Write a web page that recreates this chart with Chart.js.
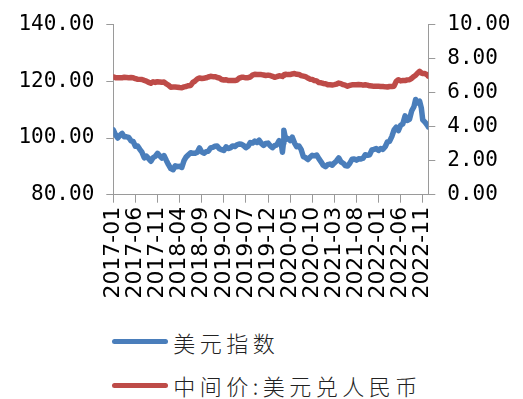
<!DOCTYPE html>
<html>
<head>
<meta charset="utf-8">
<script src="https://cdn.jsdelivr.net/npm/chart.js"></script>
<style>
  html, body { margin: 0; padding: 0; background: #fff; }
  #wrap { position: relative; width: 523px; height: 399px; overflow: hidden; }
  #chart { position: absolute; left: 0; top: 0; }
  .lg-line { position: absolute; height: 5px; border-radius: 3px; }
  .lg-text { position: absolute; font-family: "Noto Sans CJK SC", sans-serif; font-size: 22px; font-weight: 300;
             line-height: 22px; letter-spacing: 4.5px; color: #222; white-space: nowrap; }
</style>
</head>
<body>
<div id="wrap">
  <canvas id="chart" width="523" height="320"></canvas>
  <div id="legend"></div>
</div>
<script>
// Observation dates (semi-monthly, with a few extra days around turning points)
const dates = [
  '2017-01-01','2017-01-16','2017-02-01','2017-02-16','2017-03-01','2017-03-16','2017-04-01','2017-04-16',
  '2017-05-01','2017-05-16','2017-06-01','2017-06-16','2017-07-01','2017-07-16','2017-08-01','2017-08-16',
  '2017-09-01','2017-09-16','2017-10-01','2017-10-16','2017-11-01','2017-11-16','2017-12-01','2017-12-16',
  '2018-01-01','2018-01-16','2018-02-01','2018-02-16','2018-03-01','2018-03-16','2018-04-01','2018-04-16',
  '2018-05-01','2018-05-16','2018-06-01','2018-06-16','2018-07-01','2018-07-16','2018-08-01','2018-08-16',
  '2018-09-01','2018-09-16','2018-10-01','2018-10-16','2018-11-01','2018-11-16','2018-12-01','2018-12-16',
  '2019-01-01','2019-01-16','2019-02-01','2019-02-16','2019-03-01','2019-03-16','2019-04-01','2019-04-16',
  '2019-05-01','2019-05-16','2019-06-01','2019-06-16','2019-07-01','2019-07-16','2019-08-01','2019-08-16',
  '2019-09-01','2019-09-16','2019-10-01','2019-10-16','2019-11-01','2019-11-16','2019-12-01','2019-12-16',
  '2020-01-01','2020-01-16','2020-02-01','2020-02-16','2020-03-01','2020-03-09','2020-03-16','2020-03-19',
  '2020-04-01','2020-04-16','2020-05-01','2020-05-16','2020-06-01','2020-06-16','2020-07-01','2020-07-16',
  '2020-08-01','2020-08-16','2020-09-01','2020-09-16','2020-10-01','2020-10-16','2020-11-01','2020-11-16',
  '2020-12-01','2020-12-16',
  '2021-01-01','2021-01-16','2021-02-01','2021-02-16','2021-03-01','2021-03-16','2021-04-01','2021-04-16',
  '2021-05-01','2021-05-16','2021-06-01','2021-06-16','2021-07-01','2021-07-16','2021-08-01','2021-08-16',
  '2021-09-01','2021-09-16','2021-10-01','2021-10-16','2021-11-01','2021-11-16','2021-12-01','2021-12-16',
  '2022-01-01','2022-01-16','2022-02-01','2022-02-16','2022-03-01','2022-03-16','2022-04-01','2022-04-16',
  '2022-05-01','2022-05-16','2022-06-01','2022-06-16','2022-07-01','2022-07-16','2022-08-01','2022-08-16',
  '2022-09-01','2022-09-13','2022-09-25','2022-10-10','2022-10-22','2022-11-01','2022-11-16','2022-12-01',
  '2022-12-09'
];

// 美元指数 (left axis)
const dollarIndex = [
  102.9,101.2,100.0,101.0,101.6,100.4,100.4,100.2, 99.0, 98.8, 97.1, 97.2, 96.0, 95.0, 93.0, 93.6,
   92.7, 91.8, 93.1, 93.5, 94.6, 93.7, 92.9, 93.8,
   92.1, 90.6, 89.2, 88.8, 90.2, 89.9, 90.0, 89.6, 92.0, 93.3, 94.1, 94.8, 94.6, 94.6, 95.0, 96.5,
   95.1, 94.6, 95.2, 95.3, 96.5, 96.7, 97.1, 97.2,
   96.2, 95.9, 95.6, 96.9, 96.3, 96.5, 97.2, 97.0, 97.6, 97.9, 97.8, 97.3, 96.6, 97.1, 98.4, 98.2,
   98.9, 98.4, 99.2, 98.1, 97.4, 98.1, 98.2, 97.3,
   96.6, 97.3, 97.6, 99.1, 98.0, 95.0, 98.2,102.7, 99.5, 99.8, 99.1,100.3, 98.2, 96.9, 97.2, 96.0,
   93.4, 93.1, 92.4, 93.2, 93.9, 93.7, 94.0, 92.7, 91.6, 90.4,
   89.9, 90.6, 90.8, 90.4, 91.2, 91.9, 93.0, 91.6, 91.1, 90.3, 90.1, 91.1, 92.5, 92.6, 92.2, 92.7,
   92.6, 92.9, 94.1, 93.9, 94.1, 95.8, 96.0, 96.3,
   95.6, 96.3, 96.0, 97.0, 98.6, 98.8,100.5,102.8,103.8,102.6,104.5,105.0,107.8,106.2,106.6,109.5,
  111.0,113.6,112.4,113.0,110.6,106.4,105.6,104.6,
  103.9
];

// 中间价:美元兑人民币 (right axis)
const usdCnyMid = [
  6.92,6.88,6.87,6.87,6.88,6.90,6.89,6.88,6.89,6.88,6.82,6.79,6.78,6.77,6.72,6.68,
  6.60,6.55,6.64,6.60,6.64,6.63,6.61,6.62,
  6.51,6.44,6.32,6.33,6.33,6.32,6.30,6.29,6.34,6.36,6.41,6.42,6.60,6.68,6.80,6.86,
  6.83,6.85,6.87,6.92,6.96,6.94,6.94,6.89,
  6.86,6.77,6.74,6.76,6.71,6.71,6.72,6.71,6.74,6.85,6.90,6.90,6.87,6.88,6.92,7.03,
  7.08,7.07,7.07,7.06,7.04,7.01,7.03,7.01,
  6.96,6.90,6.94,6.99,6.97,6.95,7.01,7.06,7.08,7.06,7.06,7.10,7.12,7.08,7.07,7.00,
  6.97,6.94,6.86,6.79,6.78,6.71,6.69,6.59,6.58,6.54,
  6.52,6.47,6.46,6.45,6.47,6.50,6.56,6.53,6.47,6.44,6.38,6.42,6.46,6.46,6.46,6.48,
  6.47,6.44,6.46,6.44,6.40,6.39,6.37,6.37,
  6.37,6.36,6.36,6.34,6.33,6.36,6.36,6.38,6.66,6.76,6.69,6.71,6.71,6.75,6.76,6.84,
  6.95,7.02,7.14,7.25,7.16,7.12,7.12,7.05,
  6.97
];

// Date-axis labels, every five months
const tickLabels = [
  '2017-01','2017-06','2017-11','2018-04','2018-09','2019-02','2019-07','2019-12',
  '2020-05','2020-10','2021-03','2021-08','2022-01','2022-06','2022-11'
];

const seriesNames = ['美元指数', '中间价:美元兑人民币'];
const seriesColors = ['#4A7EBB', '#BE4B48'];

// month offset from 2017-01 for a 'YYYY-MM' or 'YYYY-MM-DD' string
function monthPos(s) {
  const [y, m, d] = s.split('-').map(Number);
  const dim = new Date(y, m, 0).getDate();
  return (y - 2017) * 12 + (m - 1) + ((d || 1) - 1) / dim;
}

const tickPos = tickLabels.map(monthPos);
const labelAt = new Map(tickPos.map((p, i) => [p.toFixed(4), tickLabels[i]]));

const axisGrey = '#9a9a9a';
const valueFont = { family: '"DejaVu Sans Mono", monospace', size: 21 };
const dateFont = { family: '"DejaVu Sans", sans-serif', size: 22 };
const W = 523, H = 320;
const plotLeft = 113.3, plotRight = 428.3, plotTop = 17, plotBottom = 194.7;

new Chart(document.getElementById('chart'), {
  type: 'line',
  data: {
    datasets: [
      {
        label: seriesNames[0],
        data: dates.map((d, i) => ({ x: monthPos(d), y: dollarIndex[i] })),
        borderColor: seriesColors[0],
        yAxisID: 'y',
      },
      {
        label: seriesNames[1],
        data: dates.map((d, i) => ({ x: monthPos(d), y: usdCnyMid[i] })),
        borderColor: seriesColors[1],
        yAxisID: 'y1',
      }
    ]
  },
  options: {
    responsive: false,
    animation: false,
    events: [],
    layout: { padding: { top: plotTop, left: 0, right: 0, bottom: 0 } },
    elements: {
      line: { borderWidth: 5.5, tension: 0, borderCapStyle: 'round', borderJoinStyle: 'round' },
      point: { radius: 0 }
    },
    plugins: { legend: { display: false }, tooltip: { enabled: false } },
    scales: {
      x: {
        type: 'linear',
        position: 'bottom',
        min: 0,
        max: monthPos('2022-12-09'),
        afterBuildTicks: (scale) => { scale.ticks = tickPos.map(v => ({ value: v })); },
        afterFit: (scale) => { scale.height = H - plotBottom; },
        ticks: {
          autoSkip: false,
          minRotation: 90,
          maxRotation: 90,
          padding: 4,
          color: '#000',
          font: dateFont,
          callback: (v) => labelAt.get(Number(v).toFixed(4)) || ''
        },
        grid: { drawOnChartArea: false, drawTicks: true, tickLength: 8, color: axisGrey },
        border: { color: axisGrey, width: 1 }
      },
      y: {
        type: 'linear',
        position: 'left',
        min: 80,
        max: 140,
        afterFit: (scale) => { scale.width = plotLeft; },
        ticks: { stepSize: 20, padding: 12, color: '#000', font: valueFont,
                 callback: (v) => Number(v).toFixed(2) },
        grid: { drawOnChartArea: false, drawTicks: true, tickLength: 7, color: axisGrey },
        border: { color: axisGrey, width: 1 }
      },
      y1: {
        type: 'linear',
        position: 'right',
        min: 0,
        max: 10,
        afterFit: (scale) => { scale.width = W - plotRight; },
        ticks: { stepSize: 2, padding: 12, color: '#000', font: valueFont,
                 callback: (v) => Number(v).toFixed(2) },
        grid: { drawOnChartArea: false, drawTicks: true, tickLength: 7, color: axisGrey },
        border: { color: axisGrey, width: 1 }
      }
    }
  }
});

// Legend below the plot, one series per row
const legend = document.getElementById('legend');
const rowCenters = [341.7, 385];
seriesNames.forEach((name, i) => {
  const line = document.createElement('div');
  line.className = 'lg-line';
  line.style.left = '111.7px';
  line.style.width = '56.6px';
  line.style.top = (rowCenters[i] - 2.5) + 'px';
  line.style.background = seriesColors[i];
  legend.appendChild(line);
  const txt = document.createElement('div');
  txt.className = 'lg-text';
  txt.style.left = '173.3px';
  txt.style.top = (rowCenters[i] - 11) + 'px';
  txt.textContent = name;
  legend.appendChild(txt);
});
</script>
</body>
</html>
